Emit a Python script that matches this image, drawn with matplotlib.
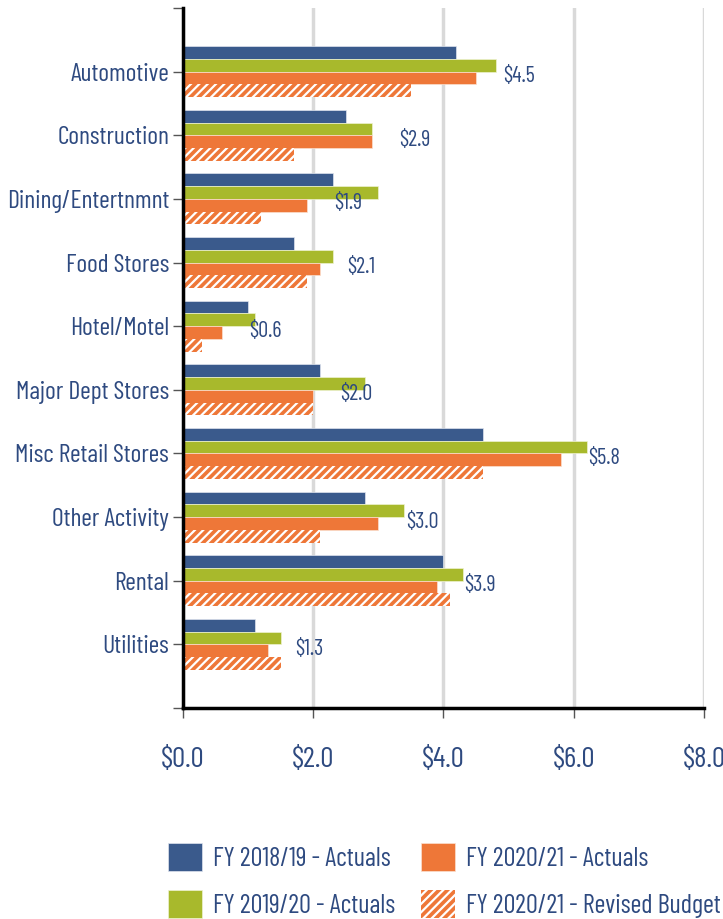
"""Sales tax by business category, grouped horizontal bars."""

import numpy as np
import matplotlib
matplotlib.use("Agg")
import matplotlib.pyplot as plt

# data ($ millions)
categories = ["Automotive", "Construction", "Dining/Entertnmnt", "Food Stores",
              "Hotel/Motel", "Major Dept Stores", "Misc Retail Stores",
              "Other Activity", "Rental", "Utilities"]
fy1819 = [4.2, 2.5, 2.3, 1.7, 1.0, 2.1, 4.6, 2.8, 4.0, 1.1]
fy1920 = [4.8, 2.9, 3.0, 2.3, 1.1, 2.8, 6.2, 3.4, 4.3, 1.5]
fy2021 = [4.5, 2.9, 1.9, 2.1, 0.6, 2.0, 5.8, 3.0, 3.9, 1.3]
fy2021_budget = [3.5, 1.7, 1.2, 1.9, 0.3, 2.0, 4.6, 2.1, 4.1, 1.5]
x_ticks = [0, 2, 4, 6, 8]

BLUE = "#3A5A8C"
GREEN = "#A8B92C"
ORANGE = "#EE7738"
TEXT = "#2E4A80"


def main():
    plt.rcParams["font.family"] = ["Barlow Condensed", "Oswald", "DejaVu Sans"]
    plt.rcParams["font.weight"] = 400
    plt.rcParams["hatch.linewidth"] = 1.6

    fig = plt.figure(figsize=(7.23, 9.19), dpi=100)
    ax = fig.add_axes([0.253, 0.2296, 0.7207, 0.7617])

    y = np.arange(len(categories))
    h = 0.2
    b1 = ax.barh(y - 1.5 * h, fy1819, h, color=BLUE, edgecolor="#dfe4ee", linewidth=0.5,
                 label="FY 2018/19 - Actuals", zorder=3)
    b2 = ax.barh(y - 0.5 * h, fy1920, h, color=GREEN, edgecolor="#eef2d0", linewidth=0.5,
                 label="FY 2019/20 - Actuals", zorder=3)
    b3 = ax.barh(y + 0.5 * h, fy2021, h, color=ORANGE, edgecolor="#fbe0d0", linewidth=0.5,
                 label="FY 2020/21 - Actuals", zorder=3)
    b4 = ax.barh(y + 1.5 * h, fy2021_budget, h, color=ORANGE, edgecolor="white",
                 hatch="////", linewidth=0.0, label="FY 2020/21 - Revised Budget", zorder=3)

    # value labels for current-year actuals
    for yi, v in zip(y, fy2021):
        ax.text(v + 0.42, yi + 0.08, f"${v:.1f}", color=TEXT, fontsize=16,
                ha="left", va="center", zorder=4)

    ax.set_xlim(0, 8)
    ax.set_ylim(10, -1)
    ax.set_xticks(x_ticks)
    ax.set_xticklabels([f"${t:.1f}" for t in x_ticks], fontsize=21, color=TEXT)
    ax.set_yticks(list(range(-1, 11)))
    ax.set_yticklabels([""] + categories + [""], fontsize=18.5, color=TEXT)
    ax.tick_params(axis="x", length=7, width=1, color="#555555", pad=21)
    ax.tick_params(axis="y", length=7, width=1, color="#555555", pad=3)

    ax.grid(axis="x", color="#d9d9d9", linewidth=2.5, zorder=0)
    ax.set_axisbelow(True)
    for side in ["top", "right"]:
        ax.spines[side].set_visible(False)
    for side in ["left", "bottom"]:
        ax.spines[side].set_linewidth(2.5)
        ax.spines[side].set_color("black")
        ax.spines[side].set_zorder(5)

    fig.legend(handles=[b1, b2, b3, b4], loc="upper left", bbox_to_anchor=(0.232, 0.083),
               ncol=2, frameon=False, fontsize=19, labelcolor=TEXT, borderpad=0,
               borderaxespad=0, handlelength=1.3, handleheight=1.25, handletextpad=0.4,
               columnspacing=1.0, labelspacing=0.75)

    fig.savefig("out.png", dpi=100)


if __name__ == "__main__":
    main()
